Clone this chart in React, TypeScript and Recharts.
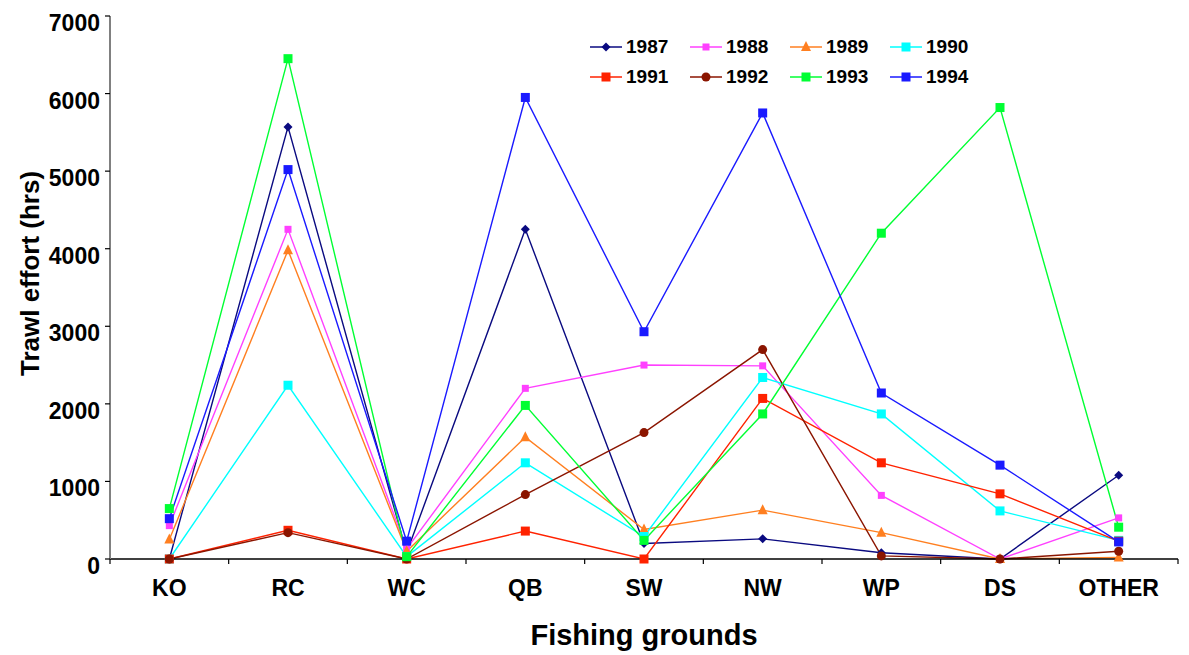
import { LineChart, Line, XAxis, YAxis, Label } from 'recharts';

const grounds = ['KO', 'RC', 'WC', 'QB', 'SW', 'NW', 'WP', 'DS', 'OTHER'];
const yTicks = [0, 1000, 2000, 3000, 4000, 5000, 6000, 7000];

const effort1987 = [0, 5570, 80, 4250, 200, 260, 80, 0, 1080];
const effort1988 = [430, 4250, 130, 2200, 2500, 2490, 820, 0, 530];
const effort1989 = [250, 3980, 100, 1570, 380, 630, 340, 0, 20];
const effort1990 = [0, 2240, 30, 1240, 290, 2340, 1870, 620, 240];
const effort1991 = [0, 370, 0, 360, 0, 2070, 1240, 840, 230];
const effort1992 = [0, 340, 0, 830, 1630, 2700, 40, 0, 100];
const effort1993 = [650, 6450, 30, 1980, 240, 1870, 4200, 5820, 410];
const effort1994 = [520, 5020, 230, 5950, 2930, 5750, 2140, 1210, 220];

const series = [
  { name: '1987', values: effort1987, color: '#0A0A80', shape: 'diamond', size: 9 },
  { name: '1988', values: effort1988, color: '#FF40FF', shape: 'square', size: 7 },
  { name: '1989', values: effort1989, color: '#FF7F20', shape: 'triangle', size: 10 },
  { name: '1990', values: effort1990, color: '#00FFFF', shape: 'square', size: 9 },
  { name: '1991', values: effort1991, color: '#FF2200', shape: 'square', size: 9 },
  { name: '1992', values: effort1992, color: '#8B1500', shape: 'circle', size: 9 },
  { name: '1993', values: effort1993, color: '#00FF33', shape: 'square', size: 9 },
  { name: '1994', values: effort1994, color: '#1A1AFF', shape: 'square', size: 9 },
];

const data = grounds.map((g, i) => {
  const row: Record<string, string | number> = { ground: g };
  series.forEach((s) => { row[s.name] = s.values[i]; });
  return row;
});

const W = 1189;
const H = 655;
const MARGIN = { top: 16, right: 11, left: 0, bottom: 0 };
const Y_W = 110;
const X_H = 96;
const BAND = (W - MARGIN.right - Y_W) / grounds.length;
const FONT = '"Liberation Sans", Arial, sans-serif';

function Marker({ cx, cy, shape, color, size }: any) {
  if (cx == null || cy == null) return null;
  const h = size / 2;
  if (shape === 'square') return <rect x={cx - h} y={cy - h} width={size} height={size} fill={color} />;
  if (shape === 'circle') return <circle cx={cx} cy={cy} r={h} fill={color} />;
  if (shape === 'diamond')
    return <polygon points={`${cx},${cy - h} ${cx + h},${cy} ${cx},${cy + h} ${cx - h},${cy}`} fill={color} />;
  return <polygon points={`${cx},${cy - h - 1} ${cx + h},${cy + h - 1} ${cx - h},${cy + h - 1}`} fill={color} />;
}

function XTick({ x, y, payload, index }: any) {
  return (
    <g>
      <line x1={x - BAND / 2} x2={x - BAND / 2} y1={y} y2={y + 5} stroke="#000" strokeWidth={1.2} />
      {index === grounds.length - 1 && (
        <line x1={x + BAND / 2} x2={x + BAND / 2} y1={y} y2={y + 5} stroke="#000" strokeWidth={1.2} />
      )}
      <text x={x} y={y + 37} textAnchor="middle" fontFamily={FONT} fontWeight="bold" fontSize={23} fill="#000">
        {payload.value}
      </text>
    </g>
  );
}

function YTick({ x, y, payload }: any) {
  return (
    <text x={x} y={y + 15} textAnchor="end" fontFamily={FONT} fontWeight="bold" fontSize={23} fill="#000">
      {payload.value}
    </text>
  );
}

function LegendBox() {
  return (
    <div
      style={{
        position: 'absolute',
        left: 589,
        top: 36,
        display: 'grid',
        gridTemplateColumns: 'repeat(4, 100px)',
        rowGap: 8,
        fontFamily: FONT,
      }}
    >
      {series.map((s) => (
        <div key={s.name} style={{ display: 'flex', alignItems: 'center', height: 22 }}>
          <svg width={34} height={14} style={{ marginRight: 3 }}>
            <line x1={1} x2={33} y1={7} y2={7} stroke={s.color} strokeWidth={1.5} />
            <Marker cx={17} cy={7} shape={s.shape} color={s.color} size={s.size} />
          </svg>
          <span style={{ fontWeight: 'bold', fontSize: 19, color: '#000' }}>{s.name}</span>
        </div>
      ))}
    </div>
  );
}

export default function App() {
  return (
    <div style={{ position: 'absolute', left: 0, top: 0, width: W, height: H, background: '#fff' }}>
      <LineChart width={W} height={H} data={data} margin={MARGIN}>
        <XAxis
          dataKey="ground"
          scale="band"
          height={X_H}
          tick={<XTick />}
          tickLine={false}
          tickSize={0}
          tickMargin={0}
          axisLine={{ stroke: '#000', strokeWidth: 1.5 }}
          interval={0}
        >
          <Label
            content={({ viewBox }: any) => (
              <text
                x={viewBox.x + viewBox.width / 2}
                y={viewBox.y + 86}
                textAnchor="middle"
                fontFamily={FONT}
                fontWeight="bold"
                fontSize={29}
                fill="#000"
              >
                Fishing grounds
              </text>
            )}
          />
        </XAxis>
        <YAxis
          width={Y_W}
          domain={[0, 7000]}
          ticks={yTicks}
          interval={0}
          tick={<YTick />}
          tickSize={5}
          tickMargin={5}
          tickLine={{ stroke: '#000', strokeWidth: 1.2 }}
          axisLine={{ stroke: '#808080', strokeWidth: 2 }}
        >
          <Label
            content={({ viewBox }: any) => {
              const cx = 30;
              const cy = viewBox.y + viewBox.height / 2 - 14;
              return (
                <text
                  x={cx}
                  y={cy}
                  transform={`rotate(-90 ${cx} ${cy})`}
                  textAnchor="middle"
                  dominantBaseline="central"
                  fontFamily={FONT}
                  fontWeight="bold"
                  fontSize={26}
                  fill="#000"
                >
                  Trawl effort (hrs)
                </text>
              );
            }}
          />
        </YAxis>
        {series.map((s) => (
          <Line
            key={s.name}
            dataKey={s.name}
            stroke={s.color}
            strokeWidth={1.4}
            isAnimationActive={false}
            legendType="none"
            dot={(p: any) => (
              <Marker key={`${s.name}-${p.index}`} cx={p.cx} cy={p.cy} shape={s.shape} color={s.color} size={s.size} />
            )}
            activeDot={false}
          />
        ))}
      </LineChart>
      <LegendBox />
    </div>
  );
}
